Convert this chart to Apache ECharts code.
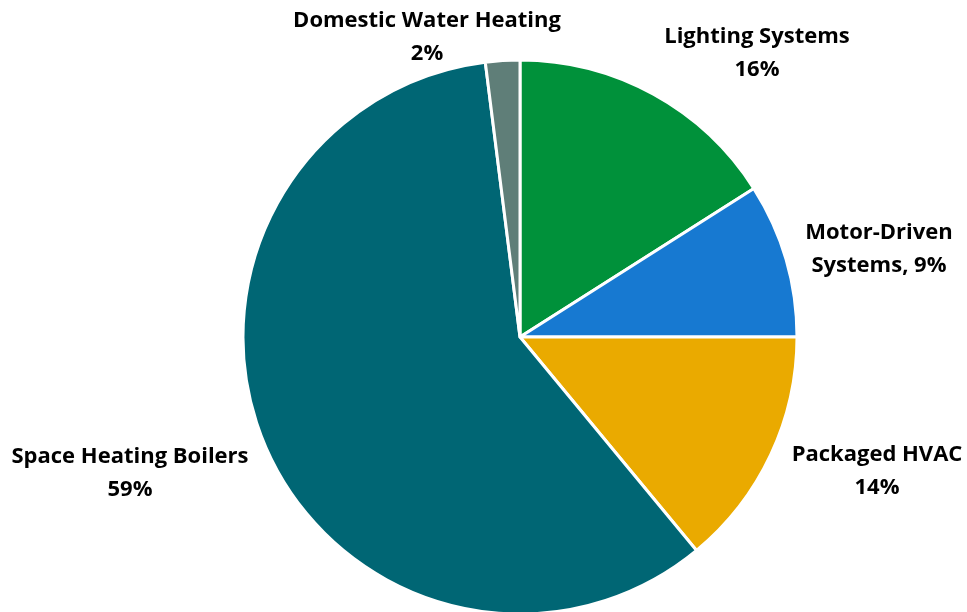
<!DOCTYPE html>
<html><head><meta charset="utf-8">
<script src="https://cdn.jsdelivr.net/npm/echarts@6/dist/echarts.min.js"></script>
<style>html,body{margin:0;padding:0;background:#fff}#c{width:967px;height:612px}</style>
</head><body><div id="c"></div>
<script>
var categories = ['Lighting Systems', 'Motor-Driven Systems', 'Packaged HVAC', 'Space Heating Boilers', 'Domestic Water Heating'];
var values = [16, 9, 14, 59, 2];
var colors = ['#00913A', '#1779D1', '#EAAA00', '#006674', '#5F7E78'];
var labelTexts = ['Lighting Systems\n16%', 'Motor-Driven\nSystems, 9%', 'Packaged HVAC\n14%', 'Space Heating Boilers\n59%', 'Domestic Water Heating\n2%'];
var labelPos = [[757, 53], [879, 249], [877, 471], [130, 473], [427, 37]];

var chart = echarts.init(document.getElementById('c'));
chart.setOption({
  animation: false,
  series: [{
    type: 'pie',
    center: [520, 337],
    radius: 277,
    startAngle: 90,
    clockwise: true,
    data: categories.map(function (n, i) {
      return { name: n, value: values[i], itemStyle: { color: colors[i] } };
    }),
    itemStyle: { borderColor: '#fff', borderWidth: 3 },
    label: {
      show: true,
      position: 'outside',
      formatter: function (p) { return labelTexts[p.dataIndex]; },
      fontFamily: 'Open Sans',
      fontWeight: 'bold',
      fontSize: 22,
      lineHeight: 33,
      color: '#000',
      align: 'center',
      overflow: 'none',
      width: 400
    },
    labelLine: { show: false },
    labelLayout: function (p) {
      return { x: labelPos[p.dataIndex][0], y: labelPos[p.dataIndex][1], align: 'center', verticalAlign: 'middle' };
    }
  }]
});
</script></body></html>
